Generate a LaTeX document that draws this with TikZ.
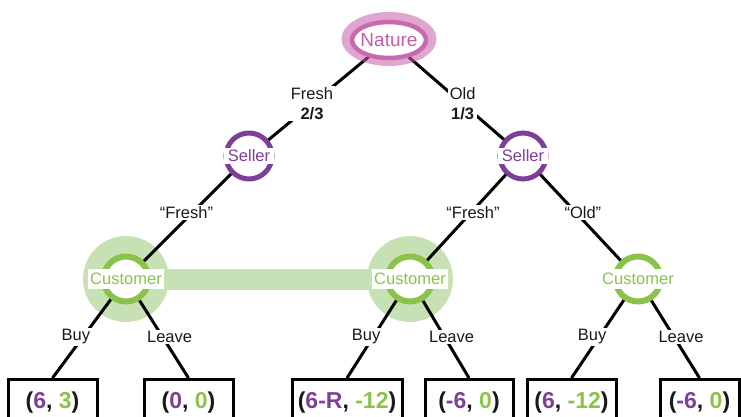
\documentclass[tikz,border=0pt]{standalone}
\usepackage{fontspec}
\setmainfont{Liberation Sans}
\usetikzlibrary{shapes.geometric}
\definecolor{pur}{RGB}{126,63,152}
\definecolor{grn}{RGB}{139,195,74}
\definecolor{halo}{RGB}{199,225,181}
\definecolor{pnk}{RGB}{196,92,168}
\definecolor{ink}{RGB}{25,25,25}
\pgfdeclarelayer{halolayer}
\pgfdeclarelayer{edgelayer}
\pgfsetlayers{halolayer,edgelayer,main}
\begin{document}
\begin{tikzpicture}[x=1pt,y=-1pt,
  edge/.style={draw=black,line width=3pt},
  elab/.style={fill=white,inner sep=1.5pt,align=center,text=ink,font=\fontsize{16.5}{20}\selectfont},
  natglow/.style={ellipse,fill=pnk,fill opacity=0.55,minimum width=95pt,minimum height=54pt,inner sep=0pt},
  natring/.style={ellipse,draw=pnk!92,fill=white,line width=4.5pt,minimum width=74pt,minimum height=36pt,inner sep=0pt},
  nattext/.style={inner sep=0pt,text=pnk,font=\fontsize{19}{22}\selectfont},
  sellring/.style={circle,draw=pur,fill=white,line width=5pt,minimum size=46pt,inner sep=0pt},
  selltext/.style={fill=white,inner xsep=4pt,inner ysep=1.5pt,text=pur,font=\fontsize{16.5}{18}\selectfont},
  custring/.style={circle,draw=grn,fill=white,line width=6pt,minimum size=45pt,inner sep=0pt},
  custtext/.style={fill=white,inner xsep=2.5pt,inner ysep=4pt,text=grn,font=\fontsize{16.5}{18}\selectfont},
  halodisk/.style={circle,fill=halo,minimum size=86pt,inner sep=0pt},
  payoff/.style={draw=black,line width=3pt,anchor=north,minimum height=46pt,inner sep=0pt,text=ink,font=\bfseries\fontsize{23}{25}\selectfont}
]
\useasboundingbox (0,0) rectangle (741,417);

% nature
\node[natglow] (natg) at (389,39) {};
\node[natring,label={[nattext]center:Nature}] (nat) at (389,40) {};

% sellers
\node[sellring,label={[selltext]center:Seller}] (s1) at (249,156) {};
\node[sellring,label={[selltext]center:Seller}] (s2) at (523,156) {};

% customers
\node[custring,label={[custtext]center:Customer}] (c1) at (126,279) {};
\node[custring,label={[custtext]center:Customer}] (c2) at (410,279) {};
\node[custring,label={[custtext]center:Customer}] (c3) at (638,279) {};

% halos and information set bar
\begin{pgfonlayer}{halolayer}
\node[halodisk] (h1) at (c1.center) {};
\node[halodisk] (h2) at (c2.center) {};
\fill[halo] ([yshift=10.5pt]c1.center) rectangle ([yshift=-10.5pt]c2.center);
\end{pgfonlayer}

% payoffs
\node[payoff,minimum width=89pt] (b1) at (52.5,378) {(\textcolor{pur}{6}, \textcolor{grn}{3})};
\node[payoff,minimum width=89pt] (b2) at (188.5,378) {(\textcolor{pur}{0}, \textcolor{grn}{0})};
\node[payoff,minimum width=110pt] (b3) at (347,378) {(\textcolor{pur}{6-R}, \textcolor{grn}{-12})};
\node[payoff,minimum width=88pt] (b4) at (469,378) {(\textcolor{pur}{-6}, \textcolor{grn}{0})};
\node[payoff,minimum width=89pt] (b5) at (571.5,378) {(\textcolor{pur}{6}, \textcolor{grn}{-12})};
\node[payoff,minimum width=79pt] (b6) at (699.5,378) {(\textcolor{pur}{-6}, \textcolor{grn}{0})};

% edges
\begin{pgfonlayer}{edgelayer}
\draw[edge] (nat.center) -- node[elab,pos=0.55] (lf) {Fresh\\\textbf{2/3}} (s1.center);
\draw[edge] (nat.center) -- node[elab,pos=0.55] (lo) {Old\\\textbf{1/3}} (s2.center);
\draw[edge] (s1.center) -- node[elab,pos=0.46,xshift=-6pt] (lq1) {“Fresh”} (c1.center);
\draw[edge] (s2.center) -- node[elab,pos=0.46,xshift=2pt] (lq2) {“Fresh”} (c2.center);
\draw[edge] (s2.center) -- node[elab,pos=0.46,xshift=7pt] (lq3) {“Old”} (c3.center);
\draw[edge] (c1.center) -- node[elab,pos=0.586,xshift=-7pt] (l1) {Buy} (b1.north);
\draw[edge] (c1.center) -- node[elab,pos=0.586,xshift=7pt] (l2) {Leave} (b2.north);
\draw[edge] (c2.center) -- node[elab,pos=0.586,xshift=-7pt] (l3) {Buy} (b3.north);
\draw[edge] (c2.center) -- node[elab,pos=0.586,xshift=7pt] (l4) {Leave} (b4.north);
\draw[edge] (c3.center) -- node[elab,pos=0.586,xshift=-7pt] (l5) {Buy} (b5.north);
\draw[edge] (c3.center) -- node[elab,pos=0.586,xshift=7pt] (l6) {Leave} (b6.north);
\end{pgfonlayer}
\end{tikzpicture}
\end{document}
